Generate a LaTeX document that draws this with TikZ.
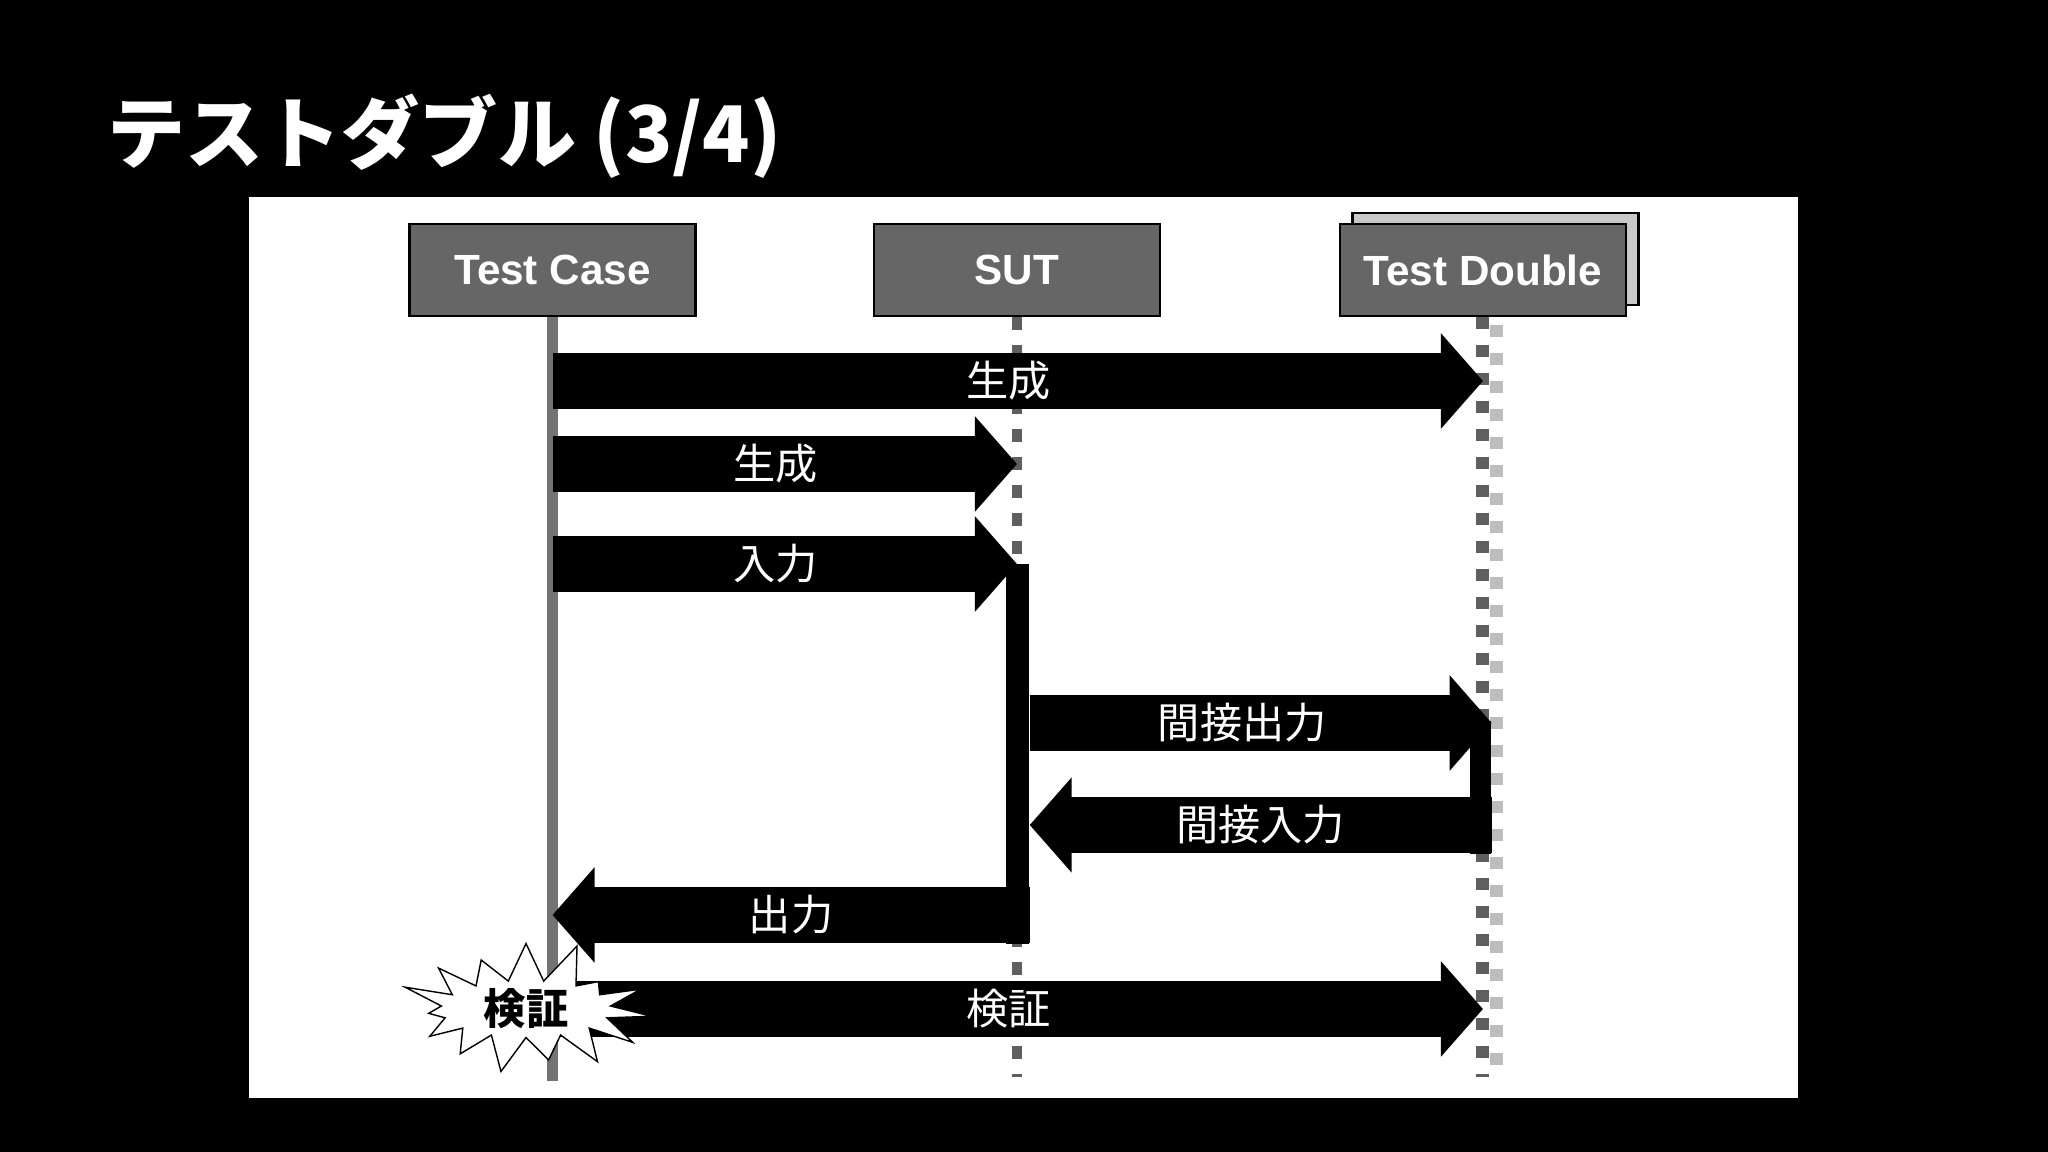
\documentclass[tikz,border=0pt]{standalone}
\usepackage{fontspec}
\setmainfont{Liberation Sans}
\newfontfamily\cjk{Noto Sans CJK JP}
\usetikzlibrary{arrows.meta}
\usetikzlibrary{shapes.symbols}
\usetikzlibrary{positioning}

\definecolor{boxgray}{HTML}{666666}
\definecolor{backgray}{HTML}{C8C8C8}
\definecolor{lifegray}{HTML}{737373}
\definecolor{dashdark}{HTML}{5F5F5F}
\definecolor{dashlight}{HTML}{BDBDBD}

\tikzset{
  lifebox/.style={draw=black, line width=0.7pt, fill=boxgray, minimum width=2.86cm,
    minimum height=0.92cm, inner sep=0pt, text=white,
    font=\fontsize{12}{14}\selectfont\bfseries},
  msg/.style={line width=0.56cm, -{Triangle[length=0.42cm,width=0.93cm]}},
  msglabel/.style={text=white, font=\cjk\fontsize{12}{14}\selectfont},
  actbar/.style={fill=black, inner sep=0pt, minimum width=0.23cm},
}

\begin{document}
\begin{tikzpicture}[x=0.01cm, y=-0.01cm]
        % Slide background and panel
        \fill[black] (0,0) rectangle (2048,1152);
        \useasboundingbox (0,0) rectangle (2048,1152);
        \fill[white] (249,197) rectangle (1798,1098);
        \node[anchor=base west, inner sep=0pt, text=white, font=\cjk\bfseries\fontsize{22.2}{26}\selectfont] (title) at (107,163) {テストダブル (3/4)};

        % Objects
        \node[lifebox] (tc) at (552.5,270) {Test Case};
        \node[lifebox] (sut) at (1017,270) {SUT};
        \node[lifebox, fill=backgray] (tdback) at (1495.5,259) {};
        \node[lifebox] (td) at (1483,270) {Test Double};

        % Lifelines
        \draw[line width=0.11cm, lifegray] (tc.south) -- (tc.south |- 0,1081);
        \draw[line width=0.1cm, dashdark, dash pattern=on 0.13cm off 0.15cm] (sut.south) -- (sut.south |- 0,1077);
        \draw[line width=0.13cm, dashlight, dash pattern=on 0.12cm off 0.16cm] ([xshift=0.13cm]td.south |- 0,325) -- ([xshift=0.13cm]td.south |- 0,1077);
        \draw[line width=0.13cm, dashdark, dash pattern=on 0.12cm off 0.16cm] ([xshift=-0.01cm]td.south) -- ([xshift=-0.01cm]td.south |- 0,1077);

        % Activation bars
        \node[actbar, anchor=north, minimum height=3.8cm] (sutbar) at (1017.5,563) {};
        \node[actbar, anchor=north, minimum height=1.33cm, minimum width=0.21cm] (tdbar) at (1480.5,720) {};

        % Messages
        \draw[msg] (tc |- 0,381) -- (td |- 0,381) node[msglabel, pos=0.49] {生成};
        \draw[msg] (tc |- 0,464) -- (sut |- 0,464) node[msglabel, pos=0.48] {生成};
        \draw[msg] (tc |- 0,564) -- (sut |- 0,564) node[msglabel, pos=0.48] {入力};
        \draw[msg] (sutbar.east |- 0,723) -- (tdbar.east |- 0,723) node[msglabel, pos=0.46] {間接出力};
        \draw[msg] (tdbar.east |- 0,825) -- (sutbar.east |- 0,825) node[msglabel, midway] {間接入力};
        \draw[msg] (sutbar.east |- 0,915) -- (tc |- 0,915) node[msglabel, midway] {出力};
        \draw[msg] (tc |- 0,1009) -- (td |- 0,1009) node[msglabel, pos=0.49] {検証};

        % Verification burst
        \node[starburst, draw=black, fill=white, line width=0.4pt, starburst points=15,
          starburst point height=0.45cm, random starburst=37, minimum width=2.6cm, minimum height=1.4cm, inner sep=0pt,
          font=\cjk\bfseries\fontsize{12}{14}\selectfont] (check) at (526,1009) {検証};
\end{tikzpicture}
\end{document}
